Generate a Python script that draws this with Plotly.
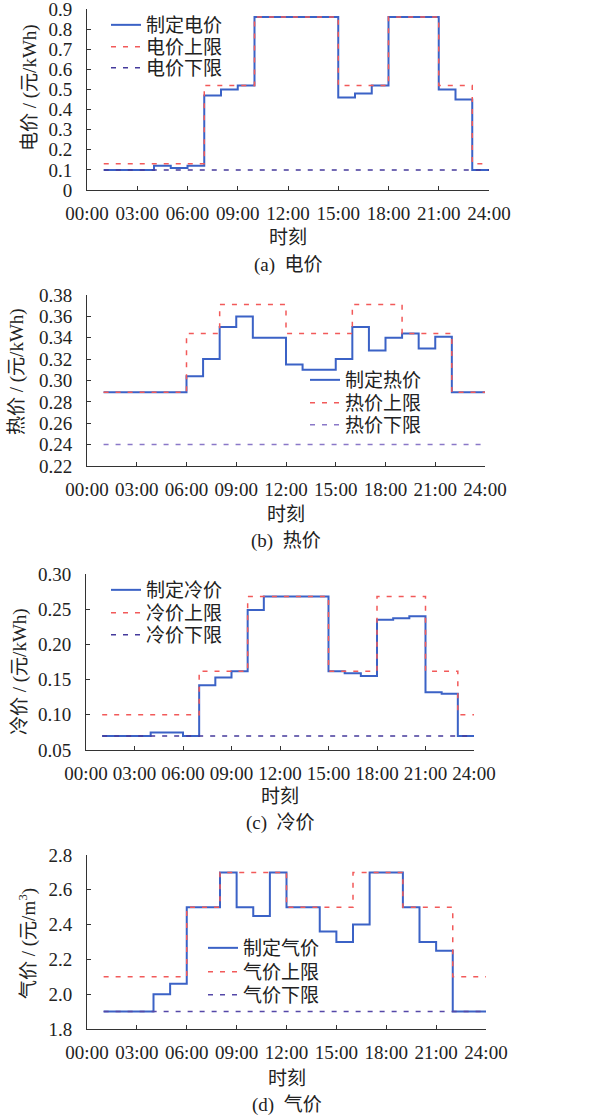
import plotly.graph_objects as go

W, H = 592, 1118

hours = [1, 2, 3, 4, 5, 6, 7, 8, 9, 10, 11, 12, 13, 14, 15, 16, 17, 18, 19, 20, 21, 22, 23, 24]
tick_vals = [0, 3, 6, 9, 12, 15, 18, 21, 24]
tick_text = ["00:00", "03:00", "06:00", "09:00", "12:00", "15:00", "18:00", "21:00", "24:00"]

# (a) electricity price
elec_set = [0.10, 0.10, 0.10, 0.12, 0.11, 0.12, 0.47, 0.50, 0.52, 0.86, 0.86, 0.86, 0.86, 0.86,
            0.46, 0.48, 0.52, 0.86, 0.86, 0.86, 0.50, 0.45, 0.10, 0.10]
elec_up = [0.13, 0.13, 0.13, 0.13, 0.13, 0.13, 0.52, 0.52, 0.52, 0.86, 0.86, 0.86, 0.86, 0.86,
           0.52, 0.52, 0.52, 0.86, 0.86, 0.86, 0.52, 0.52, 0.13, 0.13]
elec_low = [0.10, 0.10, 0.10, 0.10, 0.10, 0.10, 0.10, 0.10, 0.10, 0.10, 0.10, 0.10, 0.10, 0.10,
            0.10, 0.10, 0.10, 0.10, 0.10, 0.10, 0.10, 0.10, 0.10, 0.10]
elec_ticks = [0, 0.1, 0.2, 0.3, 0.4, 0.5, 0.6, 0.7, 0.8, 0.9]

# (b) heat price
heat_set = [0.289, 0.289, 0.289, 0.289, 0.289, 0.304, 0.320, 0.350, 0.360, 0.340, 0.340, 0.315,
            0.310, 0.310, 0.320, 0.350, 0.328, 0.340, 0.344, 0.330, 0.341, 0.289, 0.289, 0.289]
heat_up = [0.289, 0.289, 0.289, 0.289, 0.289, 0.344, 0.344, 0.371, 0.371, 0.371, 0.371, 0.344,
           0.344, 0.344, 0.344, 0.371, 0.371, 0.371, 0.344, 0.344, 0.344, 0.289, 0.289, 0.289]
heat_low = [0.24, 0.24, 0.24, 0.24, 0.24, 0.24, 0.24, 0.24, 0.24, 0.24, 0.24, 0.24,
            0.24, 0.24, 0.24, 0.24, 0.24, 0.24, 0.24, 0.24, 0.24, 0.24, 0.24, 0.24]
heat_ticks = [0.22, 0.24, 0.26, 0.28, 0.30, 0.32, 0.34, 0.36, 0.38]

# (c) cooling price
cold_set = [0.070, 0.070, 0.070, 0.075, 0.075, 0.070, 0.142, 0.153, 0.162, 0.249, 0.268, 0.268,
            0.268, 0.268, 0.162, 0.159, 0.155, 0.235, 0.237, 0.240, 0.132, 0.130, 0.070, 0.070]
cold_up = [0.100, 0.100, 0.100, 0.100, 0.100, 0.100, 0.162, 0.162, 0.162, 0.268, 0.268, 0.268,
           0.268, 0.268, 0.162, 0.162, 0.162, 0.268, 0.268, 0.268, 0.162, 0.162, 0.100, 0.100]
cold_low = [0.07, 0.07, 0.07, 0.07, 0.07, 0.07, 0.07, 0.07, 0.07, 0.07, 0.07, 0.07,
            0.07, 0.07, 0.07, 0.07, 0.07, 0.07, 0.07, 0.07, 0.07, 0.07, 0.07, 0.07]
cold_ticks = [0.05, 0.10, 0.15, 0.20, 0.25, 0.30]

# (d) gas price
gas_set = [1.90, 1.90, 1.90, 2.00, 2.06, 2.50, 2.50, 2.70, 2.50, 2.45, 2.70, 2.50,
           2.50, 2.36, 2.30, 2.40, 2.70, 2.70, 2.50, 2.30, 2.25, 1.90, 1.90, 1.90]
gas_up = [2.10, 2.10, 2.10, 2.10, 2.10, 2.50, 2.50, 2.70, 2.70, 2.70, 2.70, 2.50,
          2.50, 2.50, 2.50, 2.70, 2.70, 2.70, 2.50, 2.50, 2.50, 2.10, 2.10, 2.10]
gas_low = [1.90, 1.90, 1.90, 1.90, 1.90, 1.90, 1.90, 1.90, 1.90, 1.90, 1.90, 1.90,
           1.90, 1.90, 1.90, 1.90, 1.90, 1.90, 1.90, 1.90, 1.90, 1.90, 1.90, 1.90]
gas_ticks = [1.8, 2.0, 2.2, 2.4, 2.6, 2.8]

FONT = "Liberation Serif, Noto Sans CJK SC"
TXT = "#222222"
BLUE = "#3b62c6"
RED = "#f25a5a"

def fx(px):
    return px / W

def fy(py):
    return 1 - py / H

panels = [
    dict(set=elec_set, up=elec_up, low=elec_low, names=["制定电价", "电价上限", "电价下限"],
         low_color="#453a9c", box=(87, 489, 9, 190), yr=[0, 0.9], yt=elec_ticks, fmt="",
         ytitle="电价 / (元/kWh)", ytx=30, yty=88, cap="(a)\u00a0\u00a0电价",
         leg_x=106, rows=[25, 47, 68], xt_y=238, cap_y=265),
    dict(set=heat_set, up=heat_up, low=heat_low, names=["制定热价", "热价上限", "热价下限"],
         low_color="#8a78c8", box=(87, 485, 295, 466), yr=[0.22, 0.38], yt=heat_ticks, fmt=".2f",
         ytitle="热价 / (元/kWh)", ytx=17, yty=372, cap="(b)\u00a0\u00a0热价",
         leg_x=305, rows=[380, 403, 425], xt_y=514, cap_y=541),
    dict(set=cold_set, up=cold_up, low=cold_low, names=["制定冷价", "冷价上限", "冷价下限"],
         low_color="#453a9c", box=(86, 474, 574, 750), yr=[0.05, 0.30], yt=cold_ticks, fmt=".2f",
         ytitle="冷价 / (元/kWh)", ytx=20, yty=672, cap="(c)\u00a0\u00a0冷价",
         leg_x=106, rows=[590, 613, 635], xt_y=796, cap_y=823),
    dict(set=gas_set, up=gas_up, low=gas_low, names=["制定气价", "气价上限", "气价下限"],
         low_color="#5548a8", box=(87, 486, 855, 1029), yr=[1.8, 2.8], yt=gas_ticks, fmt=".1f",
         ytitle="气价 / (元/m<sup>3</sup>)", ytx=27, yty=944, cap="(d)\u00a0\u00a0气价",
         leg_x=203, rows=[948, 972, 995], xt_y=1078, cap_y=1105),
]

fig = go.Figure()
annotations = []
layout = {}
leg_idx = 0

for i, p in enumerate(panels):
    n = i + 1
    xa = "x" if n == 1 else f"x{n}"
    ya = "y" if n == 1 else f"y{n}"
    series = [
        (p["set"], p["names"][0], dict(color=BLUE, width=2)),
        (p["up"], p["names"][1], dict(color=RED, width=1.5, dash="5px,7px")),
        (p["low"], p["names"][2], dict(color=p["low_color"], width=1.5, dash="5px,7px")),
    ]
    for k, (vals, name, line) in enumerate(series):
        leg_idx += 1
        lg = "legend" if leg_idx == 1 else f"legend{leg_idx}"
        fig.add_trace(go.Scatter(x=hours, y=vals, name=name, mode="lines", line_shape="hv",
                                 line=line, xaxis=xa, yaxis=ya, legend=lg))
        layout[lg] = dict(x=fx(p["leg_x"]), y=fy(p["rows"][k]), xanchor="left", yanchor="middle",
                          bgcolor="rgba(0,0,0,0)", borderwidth=0,
                          font=dict(family=FONT, size=19, color=TXT))
    x0, x1, y0, y1 = p["box"]
    tf = dict(family=FONT, size=19, color=TXT)
    axis_common = dict(showline=True, linecolor="#333333", linewidth=1, ticks="inside",
                       ticklen=4, tickcolor="#333333", showgrid=False, zeroline=False,
                       automargin=False, tickfont=tf, mirror=False, ticklabeloverflow="allow")
    layout["xaxis" if n == 1 else f"xaxis{n}"] = dict(
        domain=[fx(x0), fx(x1)], anchor=ya, range=[0, 24], tickmode="array",
        tickvals=tick_vals, ticktext=tick_text, tickangle=0, ticklabelstandoff=6, **axis_common)
    layout["yaxis" if n == 1 else f"yaxis{n}"] = dict(
        domain=[fy(y1), fy(y0)], anchor=xa, range=p["yr"], tickmode="array", tickvals=p["yt"],
        tickformat=p["fmt"], ticklabelstandoff=10, **axis_common)
    cx = (x0 + x1) / 2
    annotations.append(dict(text="时刻", x=fx(cx), y=fy(p["xt_y"]), xref="paper", yref="paper",
                            showarrow=False, xanchor="center", yanchor="middle",
                            font=dict(family=FONT, size=19, color=TXT)))
    annotations.append(dict(text=p["cap"], x=fx(cx), y=fy(p["cap_y"]), xref="paper", yref="paper",
                            showarrow=False, xanchor="center", yanchor="middle",
                            font=dict(family=FONT, size=19, color=TXT)))
    annotations.append(dict(text=p["ytitle"], x=fx(p["ytx"]), y=fy(p["yty"]), xref="paper",
                            yref="paper", showarrow=False, xanchor="center", yanchor="middle",
                            textangle=-90, font=dict(family=FONT, size=19, color=TXT)))

fig.update_layout(width=W, height=H, margin=dict(l=0, r=0, t=0, b=0),
                  paper_bgcolor="white", plot_bgcolor="white", showlegend=True,
                  annotations=annotations, **layout)

fig.write_html("out.html", config={"displayModeBar": False},
               post_script="document.body.style.margin='0px';")
